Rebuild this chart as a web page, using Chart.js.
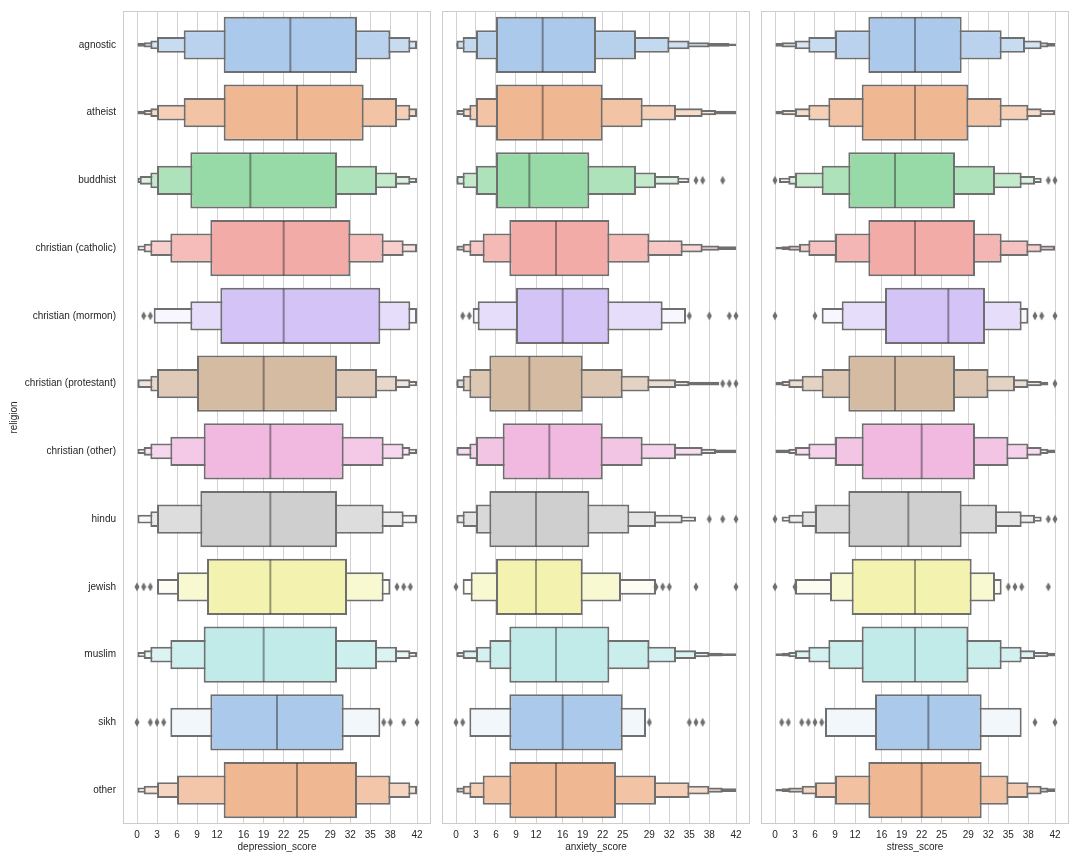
<!DOCTYPE html>
<html><head><meta charset="utf-8">
<script src="https://cdn.jsdelivr.net/npm/chart.js@4.4.0/dist/chart.umd.min.js"></script>
<style>
html,body{margin:0;padding:0;background:#fff;width:1080px;height:864px;overflow:hidden;position:relative}
canvas{position:absolute;top:0}
</style></head><body>
<canvas id="c1" width="440" height="864" style="left:0px"></canvas>
<canvas id="c2" width="330" height="864" style="left:432px"></canvas>
<canvas id="c3" width="329" height="864" style="left:751px"></canvas>
<script>
// ---------------- data ----------------
const religions = ['agnostic','atheist','buddhist','christian (catholic)','christian (mormon)',
  'christian (protestant)','christian (other)','hindu','jewish','muslim','sikh','other'];
const tickValues = [0,3,6,9,12,16,19,22,25,29,32,35,38,42];
const palette = ['#a1c9f4','#ffb482','#8de5a1','#ff9f9b','#d0bbff','#debb9b','#fab0e4','#cfcfcf','#fffea3','#b9f2f0','#a1c9f4','#ffb482'];

// letter-value boxes per religion, innermost first: [low, high]
const depressionLevels = [
  [[13,33],[7,38],[3,41],[2,42],[1,42],[0,42]],
  [[13,34],[7,39],[3,41],[2,42],[1,42],[0,42]],
  [[8,30],[3,36],[2,39],[0.4,41],[0,42]],
  [[11,32],[5,37],[2,40],[1,42],[0,42]],
  [[12.5,36.5],[8,41],[2.5,42]],
  [[9,30],[3,36],[2,39],[0,41],[0,42]],
  [[10,31],[5,37],[2,40],[1,41],[0,42]],
  [[9.5,30],[3,37],[2,40],[0,42]],
  [[10.5,31.5],[6,37],[3,38]],
  [[10,30],[5,36],[2,39],[1,41],[0,42]],
  [[11,31],[5,36.5]],
  [[13,33],[6,38],[3,41],[1,42],[0,42]]
];
const depressionMedians = [23,24,17,22,22,19,20,20,20,19,21,24];
const depressionOutliers = [[],[],[],[],[1,2],[],[],[],[0,1,2,39,40,41],[],[0,2,3,4,37,38,40,42],[]];

const anxietyLevels = [
  [[6,21],[3,27],[1,32],[0,35],[0,38],[0,41],[0,42]],
  [[6,22],[3,28],[2,33],[1,37],[0,39],[0,42]],
  [[6,20],[3,27],[1,30],[0,33.5],[0,35]],
  [[8,23],[4,29],[2,34],[1,37],[0,39.5],[0,42]],
  [[9,23],[3.25,31],[2.5,34.5]],
  [[5,19],[2,25],[1,29],[0,33],[0,35],[0,39.5]],
  [[7,22],[3,28],[2,33],[0,37],[0,39],[0,42]],
  [[5,20],[3,26],[1,30],[0,34],[0,36]],
  [[6,19],[2.2,24.75],[1,30]],
  [[8,23],[5,29],[3,33],[1,36],[0,38],[0,40],[0,42]],
  [[8,25],[2,28.5]],
  [[8,24],[4,30],[2,35],[1,38],[0,40],[0,42]]
];
const anxietyMedians = [13,13,11,15,16,11,14,12,12,15,16,15];
const anxietyOutliers = [[],[],[36,37,40],[],[1,2,35,38,41,42],[40,41,42],[],[38,40,42],[0,30,31,32,36,42],[],[0,1,29,35,36,37],[]];

const stressLevels = [
  [[14,28],[9,34],[5,37.5],[3,40],[1,41],[0,42]],
  [[13,29],[8,34],[5,38],[3,40],[1,42],[0,42]],
  [[11,27],[7,33],[3,37],[2,39],[0.6,40]],
  [[14,30],[9,34],[5,38],[3.6,40],[2,42],[1,42],[0,42]],
  [[16.5,31.5],[10,37],[7,38]],
  [[11,27],[7,32],[4,36],[2,38],[1,40],[0,41]],
  [[13,30],[9,35],[5,38],[3,40],[2,41],[0,42]],
  [[11,28],[6,33.3],[4,37],[2,39],[1,40]],
  [[11.5,29.5],[8.25,33],[3,34]],
  [[13,29],[8,34],[5,37],[3,39],[2,41],[1,42],[0,42]],
  [[15,31],[7.5,37]],
  [[14,31],[9,35],[6,38],[4,40],[2,41],[1,42],[0,42]]
];
const stressMedians = [21,21,18,21,26,18,22,20,21,21,23,22];
const stressOutliers = [[],[],[0,41,42],[],[0,6,39,40,42],[42],[],[0,41,42],[0,3,35,36,37,41],[],[1,2,4,5,6,7,39,42],[]];

// ---------------- styling helpers ----------------
const FONT = "'Liberation Sans', Arial, Helvetica, sans-serif";
const TEXT = '#262626';
const EDGE = '#6f6f6f';
const GRID = '#d2d2d2';
const BAND_PX = 813 / 12;   // category band height in pixels (used to mimic centred strokes)

function hexRgb(h){ return [1,3,5].map(i=>parseInt(h.substr(i,2),16)/255); }
function desat(h, f){
  const c = hexRgb(h); const l = (Math.max(...c)+Math.min(...c))/2;
  return c.map(v => l + (v-l)*f);
}
function levelColor(base, k, n){
  const t = n>1 ? 0.85*k/(n-1) : 0;
  const c = base.map(v => v + (1-v)*t);
  return 'rgb(' + c.map(v=>Math.round(v*255)).join(',') + ')';
}
const bases = palette.map(p => desat(p, 0.75));

const diamond = document.createElement('canvas');
diamond.width = 6; diamond.height = 10;
(function(){ const g = diamond.getContext('2d'); g.fillStyle = EDGE; g.beginPath();
  g.moveTo(3,0.5); g.lineTo(5.5,5); g.lineTo(3,9.5); g.lineTo(0.5,5); g.closePath(); g.fill(); })();

const framePlugin = {
  id: 'frame',
  beforeDatasetsDraw(chart){
    const a = chart.chartArea, g = chart.ctx;
    g.save(); g.strokeStyle = '#cccccc'; g.lineWidth = 1;
    g.strokeRect(Math.round(a.left)+0.5, Math.round(a.top)+0.5, Math.round(a.right-a.left)-1, Math.round(a.bottom-a.top)-1);
    g.restore();
  }
};

function makePanel(id, levels, medians, outliers, title, showY, pad){
  const maxK = Math.max(...levels.map(l=>l.length));
  const datasets = [];
  for (let k=0; k<maxK; k++){
    datasets.push({
      type: 'bar', indexAxis: 'y', grouped: false,
      data: religions.map((_,i) => levels[i][k] ? levels[i][k] : null),
      backgroundColor: religions.map((_,i) => levelColor(bases[i], k, levels[i].length)),
      borderColor: EDGE, borderWidth: 2, borderSkipped: false,
      barPercentage: 0.8*Math.pow(0.5,k) + 2/BAND_PX, categoryPercentage: 1,
      order: 10+k
    });
  }
  datasets.push({
    type: 'line', indexAxis: 'y', showLine: false, data: medians,
    pointStyle: 'line', pointRotation: 90,
    pointRadius: ctx => { const a = ctx.chart.chartArea; return a ? (a.bottom-a.top)/religions.length*0.4 : 27; },
    pointBorderColor: 'rgba(38,38,38,0.45)', pointBorderWidth: 2, pointBackgroundColor: 'rgba(0,0,0,0)',
    order: 1
  });
  const pts = [];
  outliers.forEach((arr,i) => arr.forEach(v => pts.push({x: v, y: religions[i]})));
  datasets.push({
    type: 'line', indexAxis: 'y', showLine: false, data: pts,
    pointStyle: diamond, pointRadius: 5, order: 0
  });
  return new Chart(document.getElementById(id), {
    type: 'bar',
    data: { labels: religions, datasets },
    plugins: [framePlugin],
    options: {
      indexAxis: 'y', responsive: false, animation: false, devicePixelRatio: 1, events: [],
      layout: { padding: pad, autoPadding: false },
      plugins: { legend: {display:false}, tooltip: {enabled:false} },
      scales: {
        x: {
          type: 'linear', position: 'bottom', min: -2.1, max: 44.1,
          afterBuildTicks: s => { s.ticks = tickValues.map(v => ({value: v})); },
          afterFit: s => { s.height = 40; s.paddingLeft = 0; s.paddingRight = 0; s.paddingTop = 0; s.paddingBottom = 0; },
          ticks: { autoSkip: false, maxRotation: 0, padding: 5, color: TEXT, font: {family: FONT, size: 10},
                   callback: v => String(v) },
          grid: { color: GRID, lineWidth: 1, drawTicks: false },
          border: { display: false },
          title: { display: true, text: title, color: TEXT, font: {family: FONT, size: 10}, padding: {top: 0, bottom: 11} }
        },
        y: {
          type: 'category', position: 'left', offset: true, display: showY,
          afterFit: s => { s.width = showY ? 123 : 0; s.paddingLeft = 0; s.paddingRight = 0; s.paddingTop = 0; s.paddingBottom = 0; },
          grid: { display: false, drawTicks: false },
          border: { display: false },
          ticks: { padding: 7, color: TEXT, font: {family: FONT, size: 10} },
          title: { display: showY, text: 'religion', color: TEXT, font: {family: FONT, size: 10}, padding: {top: 8, bottom: 0} }
        }
      }
    }
  });
}

makePanel('c1', depressionLevels, depressionMedians, depressionOutliers, 'depression_score', true, {top: 11, right: 9, left: 0, bottom: 0});
makePanel('c2', anxietyLevels, anxietyMedians, anxietyOutliers, 'anxiety_score', false, {top: 11, right: 12, left: 10, bottom: 0});
makePanel('c3', stressLevels, stressMedians, stressOutliers, 'stress_score', false, {top: 11, right: 11, left: 10, bottom: 0});
</script>
</body></html>
